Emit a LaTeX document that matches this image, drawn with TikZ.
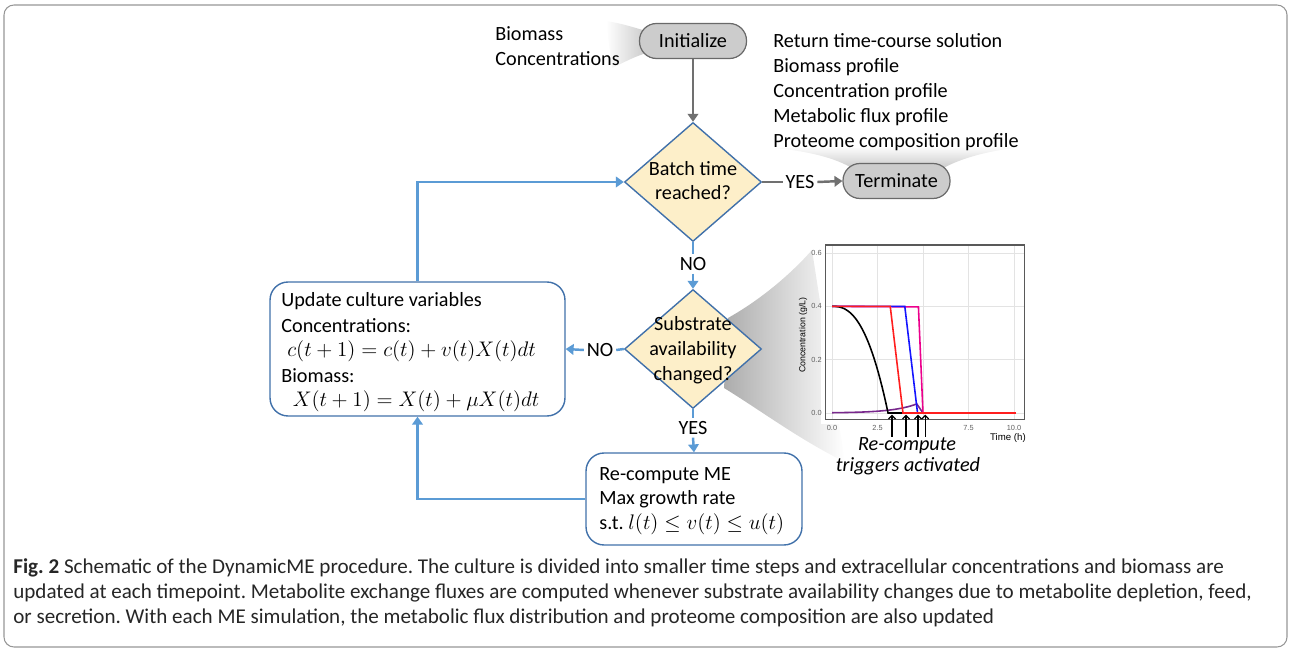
\documentclass[tikz,border=0pt]{standalone}
\usepackage{fontspec}
\setmainfont{Carlito}
\newfontfamily\plotfont{Liberation Sans}
\usetikzlibrary{shapes.geometric, arrows.meta}
\definecolor{cream}{RGB}{253,239,201}
\definecolor{edgeblue}{RGB}{65,113,170}
\definecolor{flowblue}{RGB}{91,155,213}
\definecolor{pillgray}{RGB}{204,204,204}
\definecolor{pilledge}{RGB}{105,105,105}
\definecolor{arrowgray}{RGB}{112,112,112}
\definecolor{framegray}{RGB}{150,150,150}
\definecolor{curvered}{RGB}{255,30,30}
\definecolor{curveblue}{RGB}{20,20,255}
\definecolor{curvepurple}{RGB}{120,40,140}
\frenchspacing

\begin{document}
\begin{tikzpicture}[x=0.02cm, y=-0.02cm,
	every node/.style={inner sep=0pt},
	txt/.style={font=\fontsize{11.5}{14}\selectfont},
	pill/.style={txt, draw=pilledge, fill=pillgray, line width=0.7pt, rounded corners=0.34cm, minimum width=2.14cm, minimum height=0.7cm},
	decision/.style={diamond, draw=edgeblue, fill=cream, line width=0.8pt, minimum width=2.74cm, minimum height=2.38cm},
	roundbox/.style={draw=edgeblue, fill=white, line width=0.8pt, rounded corners=0.36cm},
	flow/.style={flowblue, line width=1.4pt},
	flowarrow/.style={flow, -{Triangle[width=6pt,length=4.5pt]}},
	grayline/.style={arrowgray, line width=1.4pt},
	grayarrow/.style={grayline, -{Triangle[width=6pt,length=4.5pt]}},
	flowlabel/.style={txt, inner sep=1.5pt},
	capt/.style={font=\fontsize{12}{14}\selectfont, anchor=base west, text=black!85},
	tick/.style={font=\plotfont\fontsize{4.2}{5}\selectfont, text=gray!75!black},
	curve/.style={line width=0.9pt}
]
\useasboundingbox (0,0) rectangle (1291,651);
\draw[framegray, line width=0.6pt, rounded corners=0.2cm] (4,5) rectangle (1287,647);

\shade[left color=white, right color=gray!45] (606,21) .. controls (625,24) and (635,28) .. (650,32) -- (650,52) .. controls (635,56) and (625,62) .. (612,68) -- cycle;
\shade[top color=white, bottom color=gray!45] (775,148) .. controls (815,152) and (840,160) .. (855,170) -- (940,170) .. controls (960,158) and (990,150) .. (1030,146) -- cycle;
\shade[left color=gray!65, right color=white] (728,318) .. controls (760,300) and (790,275) .. (812,250) -- (845,462) .. controls (800,440) and (760,410) .. (724,388) -- cycle;

\node[pill] (init) at (693,41) {Initialize};
\node[txt, anchor=base west] (biomass) at (495,41) {Biomass};
\node[txt, anchor=base west] (concs) at (495,66) {Concentrations};
\foreach \s [count=\i] in {Return time-course solution, Biomass profile, Concentration profile, Metabolic flux profile, Proteome composition profile}
	\node[txt, anchor=base west] (ret\i) at (773, {48+24.8*(\i-1)}) {\s};
\node[pill] (term) at (896.5,181) {Terminate};

\node[decision] (batch) at (693,182) {};
\node[txt, anchor=base] (batch1) at (693,176) {Batch time};
\node[txt, anchor=base] (batch2) at (693,200) {reached?};

\node[decision] (subst) at (693,349) {};
\node[txt, anchor=base] (subst1) at (693,331) {Substrate};
\node[txt, anchor=base] (subst2) at (693,356) {availability};
\node[txt, anchor=base] (subst3) at (693,381) {changed?};

\node[roundbox, minimum width=5.9cm, minimum height=2.68cm] (update) at (417.5,349) {};
\node[txt, anchor=base west] (upd1) at (281,307) {Update culture variables};
\node[txt, anchor=base west] (upd2) at (281,333) {Concentrations:};
\node[txt, anchor=base west] (upd3) at (287,357) {$c(t+1) = c(t) + v(t)X(t)dt$};
\node[txt, anchor=base west] (upd4) at (281,383) {Biomass:};
\node[txt, anchor=base] (upd5) at (416,407) {$X(t+1) = X(t) + \mu X(t)dt$};

\node[roundbox, minimum width=4.32cm, minimum height=1.84cm] (recompute) at (694,499) {};
\node[txt, anchor=base west] (rec1) at (599,480) {Re-compute ME};
\node[txt, anchor=base west] (rec2) at (599,504) {Max growth rate};
\node[txt, anchor=base west] (rec3) at (599,529) {s.t. $l(t) \le v(t) \le u(t)$};

\draw[grayarrow] (init) -- (batch);
\node[flowlabel] (yes1) at (800,182) {YES};
\draw[grayline] (batch.east) -- (yes1.west);
\draw[grayarrow] (yes1.east) -- (term.west);
\node[flowlabel] (no1) at (693,264) {NO};
\draw[flow] (batch.south) -- (no1.north);
\draw[flowarrow] (no1.south) -- (subst.north);
\node[flowlabel] (no2) at (600,350) {NO};
\draw[flow] (subst.west) -- (no2.east);
\draw[flowarrow] (no2.west) -- (update.east);
\node[flowlabel] (yes2) at (693,428) {YES};
\draw[flow] (subst.south) -- (yes2.north);
\draw[flowarrow] (yes2.south) -- (recompute.north);
\draw[flowarrow] (recompute.west) -| (update.south);
\draw[flowarrow] (update.north) |- (batch.west);

\begin{scope}[shift={(832,413)}, x=0.364cm, y=5.334cm]
	\fill[white] (-0.6,-0.04) rectangle (10.9,0.66);
	\foreach \c in {0,0.2,0.4,0.6} \draw[gray!22, line width=0.4pt] (-0.38,\c) -- (10.6,\c);
	\foreach \t in {0,2.5,5,7.5,10} \draw[gray!22, line width=0.4pt] (\t,-0.026) -- (\t,0.63);
	\draw[gray!70!black, line width=0.6pt] (-0.38,-0.026) rectangle (10.6,0.63);
	\foreach \c in {0.0,0.2,0.4,0.6} \node[tick, anchor=east] (ylab\c) at (-0.55,\c) {\c};
	\foreach \t/\s in {0/0.0, 2.5/2.5, 7.5/7.5, 10/10.0} \node[tick] (xlab\t) at (\t,-0.056) {\s};
	\node[tick, text=black, font=\plotfont\fontsize{5.5}{6}\selectfont] (xtitle) at (9.67,-0.094) {Time (h)};
	\node[tick, text=black, font=\plotfont\fontsize{5}{6}\selectfont, rotate=90] (ytitle) at (-1.59,0.292) {Concentration (g/L)};
	\draw[curve, curvepurple] plot[domain=0:4.66, samples=30] (\x, {0.034*exp(0.75*(\x-4.66))}) -- (5.0,0);
	\draw[curve, magenta] (0,0.4) -- (4.75,0.398) -- (5.0,0) -- (10.1,0);
	\draw[curve, curveblue] (0,0.4) -- (4.0,0.4) -- (4.7,0) -- (10.1,0);
	\draw[curve, black] plot[domain=0:3.08, samples=40] (\x, {0.4*(1-(\x/3.08)*(\x/3.08)*sqrt(\x/3.08))}) -- (3.9,0);
	\draw[curve, curvered] (0,0.4) -- (3.2,0.4) -- (3.9,0) -- (10.1,0);
	\foreach \t [count=\i] in {3.3,4.07,4.73,5.12} {
		\coordinate (trig\i) at (\t,-0.006);
		\draw[black, line width=0.7pt, -{Straight Barb[length=2pt,width=4pt]}] (\t,-0.09) -- (trig\i);
	}
\end{scope}
\node[txt, font=\fontsize{11.5}{14}\selectfont\itshape] (trigtext1) at (907,446) {Re-compute};
\node[txt, font=\fontsize{11.5}{14}\selectfont\itshape] (trigtext2) at (908,466) {triggers activated};

\node[capt] (cap1) at (13,573) {\textbf{Fig. 2} Schematic of the DynamicME procedure. The culture is divided into smaller time steps and extracellular concentrations and biomass are};
\node[capt] (cap2) at (13,598) {updated at each timepoint. Metabolite exchange fluxes are computed whenever substrate availability changes due to metabolite depletion, feed,};
\node[capt] (cap3) at (13,623) {or secretion. With each ME simulation, the metabolic flux distribution and proteome composition are also updated};
\end{tikzpicture}
\end{document}
